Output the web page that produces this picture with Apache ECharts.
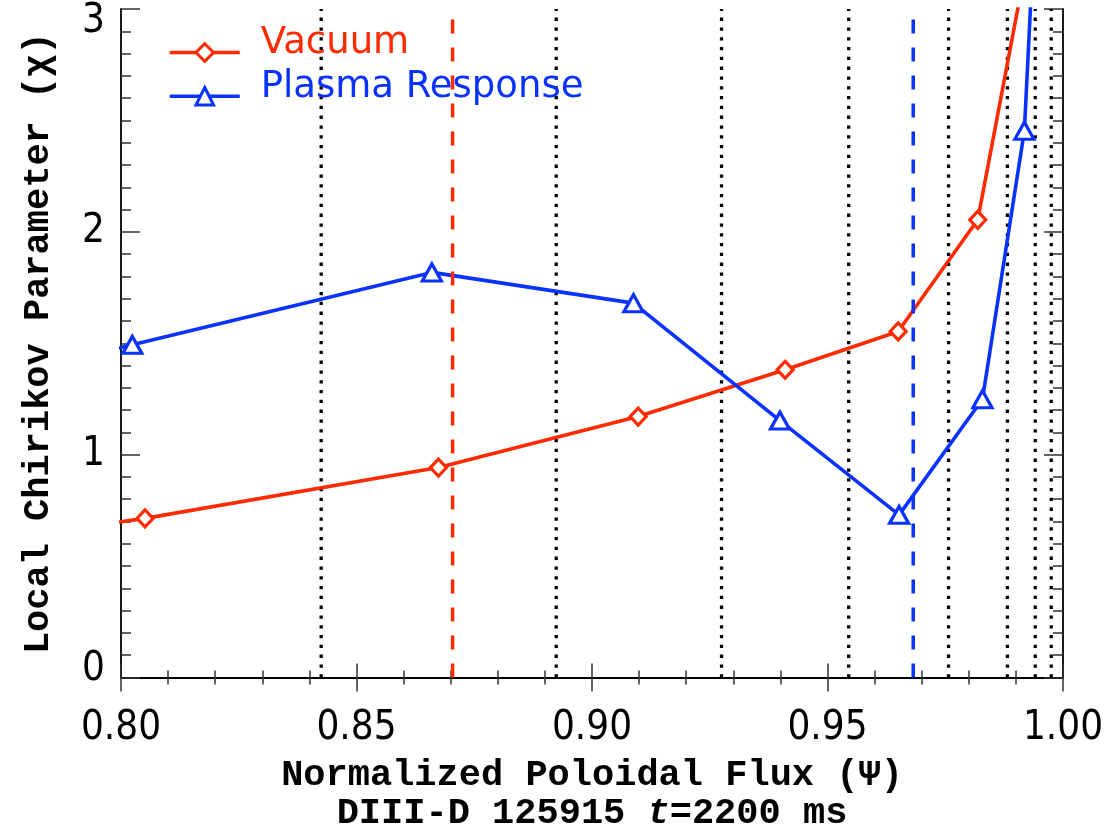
<!DOCTYPE html>
<html>
<head>
<meta charset="utf-8">
<script src="https://cdn.jsdelivr.net/npm/echarts@6/dist/echarts.min.js"></script>
<style>
html,body{margin:0;padding:0;background:#fff;}
#chart{width:1120px;height:829px;}
</style>
</head>
<body>
<div id="chart"></div>
<script>
// ---- data ----
const vacuumX = [0.790, 0.8051, 0.8674, 0.9098, 0.9410, 0.9650, 0.9819, 0.9920];
const vacuumY = [0.670, 0.714, 0.942, 1.171, 1.381, 1.553, 2.054, 3.180];
const plasmaX = [0.790, 0.8024, 0.8660, 0.9088, 0.9399, 0.9652, 0.9829, 0.9918, 0.9950];
const plasmaY = [1.430, 1.493, 1.818, 1.680, 1.153, 0.730, 1.249, 2.454, 3.820];
const rationalSurfaces = [0.8425, 0.8924, 0.9275, 0.9545, 0.9757, 0.9882, 0.9941, 0.9975];
const vacuumMarker = 0.8704;
const plasmaMarker = 0.9682;
const xTicks = [0.80, 0.85, 0.90, 0.95, 1.00];
const yTicks = [0, 1, 2, 3];
const seriesNames = ['Vacuum', 'Plasma Response'];
const xTitle = 'Normalized Poloidal Flux (Ψ)';
const subTitlePre = 'DIII-D 125915 ';
const subTitleT = 't';
const subTitlePost = '=2200 ms';
const yTitle = 'Local Chirikov Parameter (χ)';

const RED = '#ff2a00';
const BLUE = '#0a32ff';
const LABEL_FONT = "'Liberation Sans Narrow', 'DejaVu Sans Condensed', 'DejaVu Sans', sans-serif";
const TITLE_FONT = "'Liberation Mono', 'DejaVu Sans Mono', monospace";
const zip = (xs, ys) => xs.map((x, i) => [x, ys[i]]);
const yRange = [yTicks[0], yTicks[yTicks.length - 1]];

const axisLineStyle = {color: '#000', width: 1.8};
const tickStyle = {color: '#333', width: 1.5};

const series = [];
rationalSurfaces.forEach(v => {
  series.push({
    type: 'line', silent: true, symbol: 'none', z: 1,
    data: [[v, yRange[0]], [v, yRange[1]]],
    lineStyle: {color: '#000', width: 3.3, type: [3.3, 6.5], cap: 'butt'}
  });
});
series.push({
  name: seriesNames[0], type: 'line', data: zip(vacuumX, vacuumY), z: 3,
  symbol: 'diamond', symbolSize: [16, 17], showAllSymbol: true,
  lineStyle: {color: RED, width: 3.6},
  itemStyle: {color: '#fff', borderColor: RED, borderWidth: 3.2}
});
series.push({
  name: seriesNames[1], type: 'line', data: zip(plasmaX, plasmaY), z: 3,
  symbol: 'triangle', symbolSize: [19, 17], showAllSymbol: true,
  lineStyle: {color: BLUE, width: 3.6},
  itemStyle: {color: '#fff', borderColor: BLUE, borderWidth: 3.2}
});
[[vacuumMarker, RED], [plasmaMarker, BLUE]].forEach(([v, c]) => {
  series.push({
    type: 'line', silent: true, symbol: 'none', z: 4,
    data: [[v, yRange[0]], [v, yRange[1]]],
    lineStyle: {color: c, width: 3.5, type: [14, 14], cap: 'butt'}
  });
});

const xCommon = {
  type: 'value', min: xTicks[0], max: xTicks[xTicks.length - 1], interval: 0.05,
  axisLine: {show: true, lineStyle: axisLineStyle},
  axisTick: {show: true, inside: true, length: 14, lineStyle: tickStyle},
  minorTick: {show: true, splitNumber: 5, length: 7, lineStyle: tickStyle},
  splitLine: {show: false}, minorSplitLine: {show: false}
};
const yCommon = {
  type: 'value', min: yRange[0], max: yRange[1], interval: 1,
  axisLine: {show: true, lineStyle: axisLineStyle},
  axisTick: {show: true, inside: true, length: 19, lineStyle: tickStyle},
  minorTick: {show: true, splitNumber: 10, length: 10, lineStyle: tickStyle},
  splitLine: {show: false}, minorSplitLine: {show: false}
};

const legendRich = c => ({t: {color: c, fontSize: 37, fontFamily: 'DejaVu Sans', padding: [0, 0, 18, 16]}});

const option = {
  animation: false,
  backgroundColor: '#fff',
  grid: {left: 121, right: 57, top: 9, bottom: 151.5, containLabel: false, outerBoundsMode: 'none'},
  legend: {
    orient: 'vertical', left: 163, top: 20, itemWidth: 70, itemHeight: 22, itemGap: 6, padding: 5,
    lineStyle: {width: 3.5},
    itemStyle: {borderWidth: 3},
    formatter: name => '{t|' + name + '}',
    textStyle: {fontSize: 37, fontFamily: 'DejaVu Sans', rich: legendRich('#000')},
    data: [
      {name: seriesNames[0], textStyle: {color: RED, rich: legendRich(RED)}},
      {name: seriesNames[1], textStyle: {color: BLUE, rich: legendRich(BLUE)}}
    ]
  },
  xAxis: [
    Object.assign({}, xCommon, {
      position: 'bottom',
      axisLabel: {show: true, margin: 31, fontSize: 40, fontFamily: LABEL_FONT, color: '#000',
        formatter: v => v.toFixed(2)},
      name: '{a|' + xTitle + '}\n{a|' + subTitlePre + '}{i|' + subTitleT + '}{a|' + subTitlePost + '}',
      nameLocation: 'middle', nameGap: 79,
      nameTextStyle: {
        rich: {
          a: {fontSize: 37, fontFamily: TITLE_FONT, fontWeight: 'bold', color: '#000', lineHeight: 38},
          i: {fontSize: 37, fontFamily: TITLE_FONT, fontWeight: 'bold', fontStyle: 'italic', color: '#000', lineHeight: 38}
        }
      }
    }),
    Object.assign({}, xCommon, {position: 'top', axisLabel: {show: false}})
  ],
  yAxis: [
    Object.assign({}, yCommon, {
      position: 'left',
      axisLabel: {show: true, margin: 16, fontSize: 40, fontFamily: LABEL_FONT, color: '#000',
        formatter: v => (v === yRange[1] ? '{top|' + v + '}' : (v === yRange[0] ? '{bot|' + v + '}' : String(v))),
        rich: {
          top: {fontSize: 40, fontFamily: LABEL_FONT, color: '#000', padding: [26, 0, 0, 0]},
          bot: {fontSize: 40, fontFamily: LABEL_FONT, color: '#000', padding: [0, 0, 16, 0]}
        }},
      name: yTitle, nameLocation: 'middle', nameGap: 64, nameRotate: 90,
      nameTextStyle: {fontSize: 37, fontFamily: TITLE_FONT, fontWeight: 'bold', color: '#000'}
    }),
    Object.assign({}, yCommon, {position: 'right', axisLabel: {show: false}})
  ],
  series: series
};

const chart = echarts.init(document.getElementById('chart'), null, {renderer: 'canvas'});
chart.setOption(option);
</script>
</body>
</html>
